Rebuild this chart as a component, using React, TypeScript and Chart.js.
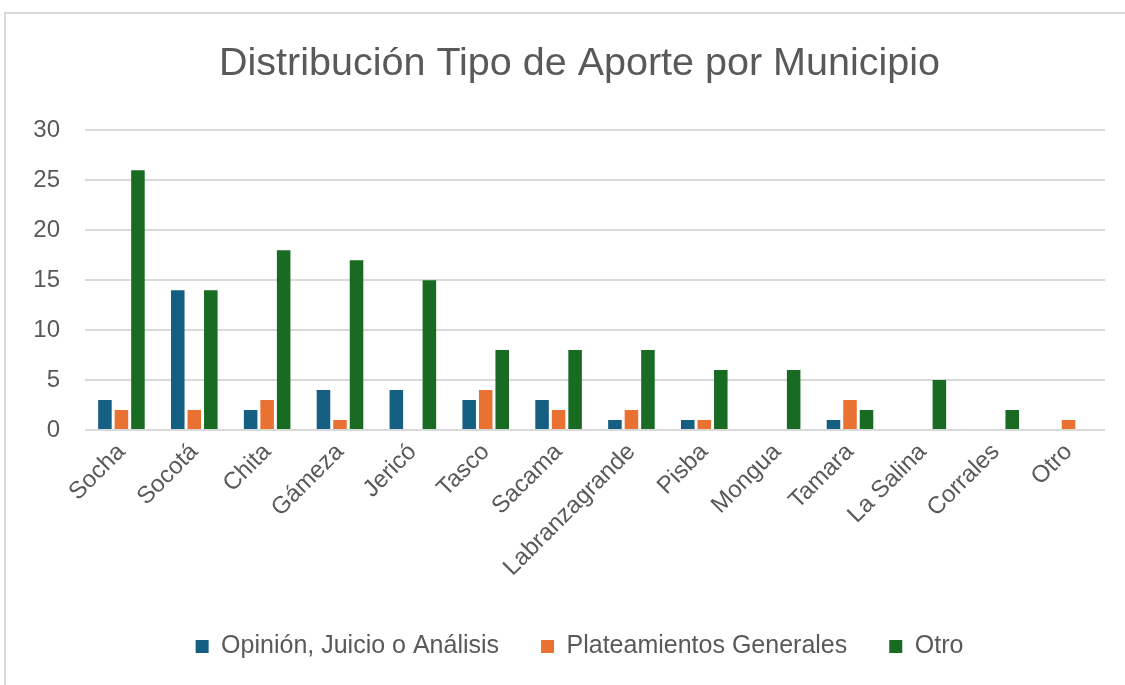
import React, { useEffect, useRef } from "react";
import { Chart, registerables } from "chart.js";

Chart.register(...registerables);

const categories = [
  "Socha", "Socotá", "Chita", "Gámeza", "Jericó", "Tasco", "Sacama",
  "Labranzagrande", "Pisba", "Mongua", "Tamara", "La Salina", "Corrales", "Otro",
];
const opinionValues = [3, 14, 2, 4, 4, 3, 3, 1, 1, 0, 1, 0, 0, 0];
const planteamientosValues = [2, 2, 3, 1, 0, 4, 2, 2, 1, 0, 3, 0, 0, 1];
const otroValues = [26, 14, 18, 17, 15, 8, 8, 8, 6, 6, 2, 5, 2, 0];
const seriesNames = ["Opinión, Juicio o Análisis", "Plateamientos Generales", "Otro"];
const seriesColors = ["#156082", "#E97132", "#196B24"];
const yTicks = [0, 5, 10, 15, 20, 25, 30];

const TEXT = "#595959";
const FONT = "'Liberation Sans', Arial, sans-serif";

const framePlugin = {
  id: "frame",
  beforeDraw(chart: any) {
    const ctx = chart.ctx;
    ctx.save();
    ctx.fillStyle = "#ffffff";
    ctx.fillRect(0, 0, chart.width, chart.height);
    ctx.strokeStyle = "#d9d9d9";
    ctx.lineWidth = 2;
    ctx.beginPath();
    ctx.moveTo(5, chart.height);
    ctx.lineTo(5, 13);
    ctx.lineTo(chart.width, 13);
    ctx.stroke();
    ctx.restore();
  },
};

export default function App() {
  const ref = useRef<HTMLCanvasElement | null>(null);
  useEffect(() => {
    if (!ref.current) return;
    const values = [opinionValues, planteamientosValues, otroValues];
    const chart = new Chart(ref.current, {
      type: "bar",
      data: {
        labels: categories,
        datasets: seriesNames.map((name, i) => ({
          label: name,
          data: values[i],
          backgroundColor: seriesColors[i],
          borderWidth: 0,
          categoryPercentage: 0.68,
          barPercentage: 0.82,
          yAxisID: "y",
        })),
      },
      options: {
        animation: false,
        responsive: true,
        maintainAspectRatio: false,
        layout: { padding: { top: 10, left: 34, right: 0, bottom: 16 } },
        plugins: {
          title: {
            display: true,
            text: "Distribución Tipo de Aporte por Municipio",
            color: TEXT,
            font: { family: FONT, size: 39.5, weight: "normal" },
            padding: { top: 30, bottom: 43 },
          },
          legend: {
            position: "bottom",
            labels: {
              color: TEXT,
              font: { family: FONT, size: 25 },
              boxWidth: 13,
              boxHeight: 13,
              padding: 42,
            },
          },
          tooltip: { enabled: false },
        },
        scales: {
          x: {
            grid: { display: false, drawTicks: false },
            border: { display: false },
            ticks: {
              color: TEXT,
              font: { family: FONT, size: 24 },
              minRotation: 45,
              maxRotation: 45,
              autoSkip: false,
              padding: 8,
            },
            afterFit: (scale: any) => {
              scale.height = 162;
            },
          },
          y: {
            min: 0,
            max: 30,
            afterBuildTicks: (scale: any) => {
              scale.ticks = yTicks.map((v) => ({ value: v }));
            },
            grid: { color: "#d9d9d9", lineWidth: 2, drawTicks: false },
            border: { display: false },
            ticks: {
              color: TEXT,
              font: { family: FONT, size: 24 },
              padding: 25,
            },
            afterFit: (scale: any) => {
              scale.width = 51;
            },
          },
          y2: {
            position: "right",
            min: 0,
            max: 1,
            grid: { display: false, drawTicks: false },
            border: { display: false },
            ticks: { display: false },
            afterFit: (scale: any) => {
              scale.width = 20;
            },
          },
        },
      },
      plugins: [framePlugin],
    });
    return () => chart.destroy();
  }, []);
  return (
    <div style={{ position: "absolute", left: 0, top: 0, width: 1125, height: 685 }}>
      <canvas ref={ref} />
    </div>
  );
}
